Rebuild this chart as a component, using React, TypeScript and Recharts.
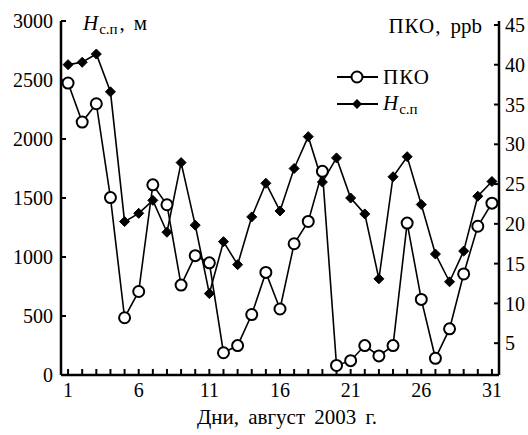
import { LineChart, Line, XAxis, YAxis, Legend, Customized } from "recharts";

// дни августа 2003
const days = [1, 2, 3, 4, 5, 6, 7, 8, 9, 10, 11, 12, 13, 14, 15, 16, 17, 18, 19, 20, 21, 22, 23, 24, 25, 26, 27, 28, 29, 30, 31];
// высота слоя перемешивания, м
const hsp = [2630, 2650, 2720, 2400, 1300, 1370, 1480, 1210, 1800, 1270, 690, 1130, 935, 1340, 1625, 1390, 1750, 2020, 1635, 1840, 1500, 1365, 815, 1680, 1850, 1445, 1025, 790, 1050, 1515, 1640];
// ПКО, ppb
const pko = [37.7, 32.8, 35.1, 23.3, 8.2, 11.5, 24.9, 22.4, 12.3, 16.0, 15.1, 3.8, 4.7, 8.6, 13.9, 9.3, 17.5, 20.3, 26.6, 2.2, 2.8, 4.7, 3.4, 4.7, 20.1, 10.5, 3.1, 6.8, 13.7, 19.7, 22.6];

const xLabeled = [1, 6, 11, 16, 21, 26, 31];
const leftTicks = [0, 500, 1000, 1500, 2000, 2500, 3000];
const rightTicks = [5, 10, 15, 20, 25, 30, 35, 40, 45];

const FONT = "'Liberation Serif', 'Times New Roman', serif";

const data = days.map((d, i) => ({ day: d, h: hsp[i], pko: pko[i] }));

const Diamond = (props: any) => {
  const { cx, cy } = props;
  if (cx == null || cy == null) return null;
  const s = 5;
  return <polygon points={`${cx},${cy - s} ${cx + s},${cy} ${cx},${cy + s} ${cx - s},${cy}`} fill="#000" stroke="#000" strokeWidth={1} />;
};

const LegendBox = () => (
  <div style={{ fontFamily: FONT, fontSize: 21, color: "#000", lineHeight: "26px" }}>
    <div style={{ display: "flex", alignItems: "center" }}>
      <svg width={44} height={26}>
        <line x1={1} y1={13} x2={42} y2={13} stroke="#000" strokeWidth={1.8} />
        <circle cx={21} cy={13} r={5.5} fill="#fff" stroke="#000" strokeWidth={2} />
      </svg>
      <span style={{ marginLeft: 3, letterSpacing: 1 }}>ПКО</span>
    </div>
    <div style={{ display: "flex", alignItems: "center" }}>
      <svg width={44} height={26}>
        <line x1={1} y1={13} x2={42} y2={13} stroke="#000" strokeWidth={1.8} />
        <polygon points="21,8 26,13 21,18 16,13" fill="#000" />
      </svg>
      <span style={{ marginLeft: 3 }}>
        <i>H</i>
        <span style={{ fontSize: 15, position: "relative", top: 4, marginLeft: 1 }}>с.п</span>
      </span>
    </div>
  </div>
);

const Titles = () => (
  <g fontFamily={FONT} fill="#000">
    <text x={83} y={30} fontSize={21}>
      <tspan fontStyle="italic">H</tspan>
      <tspan fontSize={15} dy={4} dx={1}>с.п</tspan>
      <tspan dy={-4} dx={2}>,</tspan>
      <tspan dx={9}>м</tspan>
    </text>
    <text x={482} y={33} fontSize={21} textAnchor="end">
      <tspan letterSpacing={1}>ПКО,</tspan>
      <tspan dx={9}>ppb</tspan>
    </text>
    <text x={287} y={424} fontSize={21} textAnchor="middle" wordSpacing={4}>Дни, август 2003 г.</text>
  </g>
);

export default function App() {
  return (
    <div style={{ position: "absolute", left: 0, top: 0, width: 528, height: 435, background: "#fff" }}>
      <LineChart width={528} height={435} data={data} margin={{ top: 21, right: 0, left: 0, bottom: 0 }}>
        <XAxis
          dataKey="day"
          type="number"
          domain={[0.5, 31.5]}
          ticks={days}
          interval={0}
          tickFormatter={(v: number) => (xLabeled.includes(v) ? String(v) : "")}
          height={60}
          axisLine={{ stroke: "#000", strokeWidth: 2.5 }}
          tickLine={{ stroke: "#000", strokeWidth: 2 }}
          tickSize={-6}
          tickMargin={14}
          tick={{ fontSize: 20, fill: "#000", fontFamily: FONT }}
        />
        <YAxis
          yAxisId="left"
          domain={[0, 3000]}
          ticks={leftTicks}
          interval={0}
          width={61}
          axisLine={{ stroke: "#000", strokeWidth: 2.5 }}
          tickLine={{ stroke: "#000", strokeWidth: 2 }}
          tickSize={-5}
          tickMargin={13}
          tick={{ fontSize: 20, fill: "#000", fontFamily: FONT }}
        />
        <YAxis
          yAxisId="right"
          orientation="right"
          domain={[1, 45.5]}
          ticks={rightTicks}
          interval={0}
          width={29}
          axisLine={{ stroke: "#000", strokeWidth: 2.5 }}
          tickLine={{ stroke: "#000", strokeWidth: 2 }}
          tickSize={-5}
          tickMargin={11}
          tick={{ fontSize: 20, fill: "#000", fontFamily: FONT, textAnchor: "start" }}
          allowDataOverflow
        />
        <Legend
          layout="vertical"
          verticalAlign="middle"
          align="center"
          wrapperStyle={{ top: 64, left: 336, width: 120 }}
          content={() => <LegendBox />}
        />
        <Line
          yAxisId="right"
          dataKey="pko"
          stroke="#000"
          strokeWidth={1.6}
          dot={{ r: 5.5, fill: "#fff", stroke: "#000", strokeWidth: 2 }}
          isAnimationActive={false}
        />
        <Line
          yAxisId="left"
          dataKey="h"
          stroke="#000"
          strokeWidth={1.6}
          dot={<Diamond />}
          isAnimationActive={false}
        />
        <Customized component={Titles} />
      </LineChart>
    </div>
  );
}
